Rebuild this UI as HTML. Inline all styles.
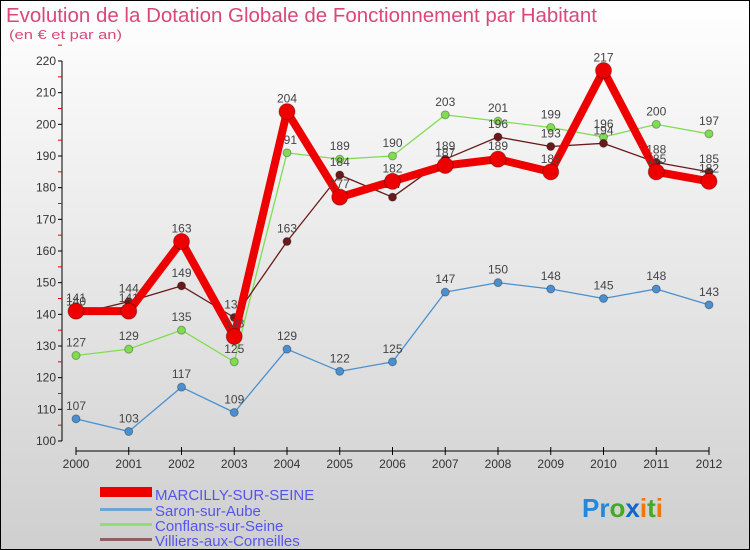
<!DOCTYPE html>
<html><head><meta charset="utf-8"><style>
body{margin:0}
#c{width:750px;height:550px;position:relative;box-sizing:border-box;border:1px solid #000;background:linear-gradient(#ffffff,#cfcfcf);font-family:"Liberation Sans",sans-serif;overflow:hidden}
</style></head><body>
<div id="c">
<svg id="s" width="750" height="550" style="position:absolute;left:-1px;top:-1px">
<text x="6" y="22" font-size="20" fill="#d8487a" textLength="591" lengthAdjust="spacingAndGlyphs">Evolution de la Dotation Globale de Fonctionnement par Habitant</text>
<text x="9" y="39" font-size="13" fill="#d8487a" textLength="113" lengthAdjust="spacingAndGlyphs">(en € et par an)</text>
<g id="g"></g>
<g>
<rect x="100" y="487" width="52" height="10" fill="#e00"/>
<text x="155" y="500" font-size="15" fill="#5555ee">MARCILLY-SUR-SEINE</text>
<rect x="100" y="508" width="52" height="3" fill="#6fa6d0"/>
<text x="155" y="516" font-size="15" fill="#5555ee">Saron-sur-Aube</text>
<rect x="100" y="523" width="52" height="3" fill="#90e070"/>
<text x="155" y="531" font-size="15" fill="#5555ee">Conflans-sur-Seine</text>
<rect x="100" y="538" width="52" height="3" fill="#906060"/>
<text x="155" y="546" font-size="15" fill="#5555ee">Villiers-aux-Corneilles</text>
</g>
<text x="582" y="517" font-size="26" font-weight="bold"><tspan fill="#2288dd">Pr</tspan><tspan fill="#44aa22">o</tspan><tspan fill="#1166cc">x</tspan><tspan fill="#ee7711">i</tspan><tspan fill="#44aa22">t</tspan><tspan fill="#ee7711">i</tspan></text>
</svg>
<script>
const years=[2000,2001,2002,2003,2004,2005,2006,2007,2008,2009,2010,2011,2012];
const yTicks=[100,110,120,130,140,150,160,170,180,190,200,210,220];
const marcilly=[141,141,163,133,204,177,182,187,189,185,217,185,182];
const saron=[107,103,117,109,129,122,125,147,150,148,145,148,143];
const conflans=[127,129,135,125,191,189,190,203,201,199,196,200,197];
const villiers=[140,144,149,139,163,184,177,189,196,193,194,188,185];
const NS='http://www.w3.org/2000/svg';
const g=document.getElementById('g');
const X=i=>76+i*(709-76)/(years.length-1);
const Y=v=>441-(v-100)*(380/120);
function el(t,a,p){const e=document.createElementNS(NS,t);for(const k in a)e.setAttribute(k,a[k]);(p||g).appendChild(e);return e;}
let ax=el('line',{x1:62,y1:Y(220),x2:62,y2:Y(100),stroke:'#000','stroke-width':1});


yTicks.forEach(v=>{el('line',{x1:58,x2:62,y1:Y(v),y2:Y(v),stroke:'#000'});
el('line',{x1:58,x2:62,y1:Y(v+5),y2:Y(v+5),stroke:'#e00'});
const t=el('text',{x:56,y:Y(v)+4,'font-size':12,fill:'#333','text-anchor':'end'});t.textContent=v;

});
let xa=el('line',{x1:X(0),y1:451,x2:X(12),y2:451,stroke:'#000'});


years.forEach((y,i)=>{el('line',{x1:X(i),x2:X(i),y1:447,y2:455,stroke:'#000'});
const t=el('text',{x:X(i),y:468,'font-size':12,fill:'#333','text-anchor':'middle'});t.textContent=y;

});
function series(vals,col,w,r,name){
const pts=vals.map((v,i)=>X(i)+','+Y(v)).join(' ');
const pl=el('polyline',{points:pts,fill:'none',stroke:col,'stroke-width':w,'stroke-linejoin':'round'});


vals.forEach((v,i)=>{const c=el('circle',{cx:X(i),cy:Y(v),r:r,fill:col,stroke:'rgba(0,0,0,0.3)'});


const t=el('text',{x:X(i),y:Y(v)-9,'font-size':12,fill:'#444','text-anchor':'middle'});t.textContent=v;

});}
series(saron,'#4a90d0',1.3,4,'saron');
series(conflans,'#80dd50',1.3,4,'conflans');
series(villiers,'#6a1a1a',1.3,4,'villiers');
series(marcilly,'#ee0000',8,8,'marcilly');
</script>
</div>
</body></html>
